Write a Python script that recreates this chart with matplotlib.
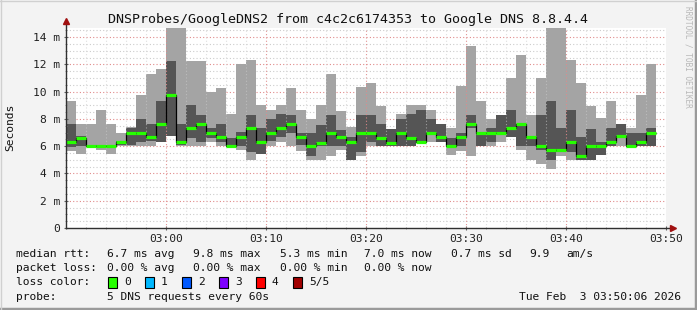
"""
SmokePing style latency graph: DNSProbes/GoogleDNS2, last hour.
Smoke bands = spread of 5 DNS requests per minute, green step = median rtt.
"""

import matplotlib
matplotlib.use("Agg")
import matplotlib.pyplot as plt
import numpy as np
from matplotlib.patches import Rectangle

# one bar per minute starting 02:50, values in ms
RTT_MIN = [5.66, 5.40, 5.98, 5.69, 5.40, 6.03, 6.00, 6.03, 6.03, 6.32,
           6.76, 6.03, 6.03, 6.03, 6.32, 6.03, 5.95, 5.69, 5.00, 5.40,
           6.03, 6.32, 6.03, 5.68, 5.00, 5.00, 5.30, 5.69, 4.98, 5.30,
           6.03, 6.00, 6.00, 6.00, 6.00, 6.25, 6.32, 6.32, 5.37, 5.66,
           5.30, 6.03, 6.03, 6.32, 6.69, 5.69, 5.00, 4.66, 4.33, 5.30,
           5.00, 5.00, 5.00, 5.37, 6.03, 6.03, 6.03, 6.03, 6.03]
RTT_P2 = [5.96, 6.00, 6.00, 6.00, 6.00, 6.10, 6.05, 6.32, 6.40, 6.32,
          6.76, 6.10, 6.60, 6.32, 6.60, 6.30, 6.00, 6.03, 5.59, 5.40,
          6.40, 6.69, 6.98, 6.10, 5.30, 6.00, 6.03, 6.00, 5.00, 5.59,
          6.30, 6.00, 6.00, 6.00, 6.00, 6.30, 6.95, 6.32, 6.03, 6.00,
          7.35, 6.03, 6.32, 6.95, 6.69, 6.03, 6.03, 5.69, 5.00, 5.60,
          5.59, 5.00, 5.00, 5.37, 6.03, 6.70, 6.03, 6.03, 6.03]
RTT_MED = [6.30, 6.62, 6.03, 6.03, 6.03, 6.32, 6.98, 6.98, 6.69, 7.64,
           9.74, 6.32, 7.35, 7.64, 6.98, 6.69, 6.03, 6.69, 7.35, 6.32,
           6.98, 7.35, 7.64, 6.66, 6.03, 6.25, 6.98, 6.69, 6.32, 6.98,
           6.98, 6.62, 6.25, 6.98, 6.62, 6.32, 6.98, 6.69, 6.03, 6.69,
           7.64, 6.98, 6.98, 6.98, 7.35, 7.64, 6.69, 6.03, 5.69, 5.69,
           6.32, 5.30, 6.03, 6.03, 6.32, 6.76, 6.03, 6.32, 6.98]
RTT_P4 = [7.60, 6.75, 6.10, 6.10, 6.10, 6.40, 7.35, 8.00, 7.62, 9.30,
          12.23, 7.62, 9.01, 8.28, 7.35, 7.62, 6.62, 7.06, 8.28, 7.35,
          7.99, 8.35, 8.28, 7.00, 6.98, 7.55, 8.28, 7.20, 6.70, 8.28,
          8.28, 7.64, 7.25, 7.99, 8.35, 8.65, 7.99, 7.62, 6.62, 6.98,
          8.28, 7.00, 7.35, 8.28, 8.64, 7.66, 6.72, 8.28, 9.30, 7.35,
          8.64, 6.69, 7.25, 6.32, 7.35, 7.64, 6.98, 6.98, 7.35]
RTT_MAX = [9.30, 7.62, 7.65, 8.64, 7.62, 6.98, 7.40, 9.76, 11.27, 11.65,
           15.2, 15.0, 12.23, 12.23, 9.96, 10.26, 8.35, 12.00, 12.30, 9.01,
           8.64, 9.01, 10.26, 8.64, 7.99, 9.01, 11.28, 8.57, 7.42, 10.33,
           10.62, 8.94, 7.27, 8.35, 9.01, 9.01, 8.65, 7.64, 7.35, 10.43,
           13.33, 9.30, 7.99, 8.30, 10.99, 12.67, 8.28, 10.99, 15.2, 15.2,
           12.30, 10.62, 8.94, 8.03, 9.30, 7.66, 7.35, 9.74, 12.00]

TIME_LABELS = ["03:00", "03:10", "03:20", "03:30", "03:40", "03:50"]
Y_TICKS = [0, 2, 4, 6, 8, 10, 12, 14]

TITLE = "DNSProbes/GoogleDNS2 from c4c2c6174353 to Google DNS 8.8.4.4"
LOSS_COLORS = [("0", "#26ff00"), ("1", "#00b8ff"), ("2", "#0059ff"),
               ("3", "#7e00ff"), ("4", "#ff0000"), ("5/5", "#a10000")]

W, H = 697, 310
MONO = "DejaVu Sans Mono"
C_LIGHT = "#a4a4a4"
C_DARK = "#555555"
C_ARROW = "#a01010"


def fx(px):
    return px / W


def fy(py):
    return 1 - py / H


def main():
    fig = plt.figure(figsize=(W / 100, H / 100), dpi=100)
    fig.patch.set_facecolor("#f3f3f3")

    # rrdtool style frame shading
    fig.add_artist(plt.Line2D([0, 1], [fy(H - 1), fy(H - 1)], color="#9a9a9a", lw=2.5))
    fig.add_artist(plt.Line2D([fx(W - 1), fx(W - 1)], [0, 1], color="#9a9a9a", lw=2.5))
    fig.add_artist(plt.Line2D([0, 1], [fy(0.5), fy(0.5)], color="#d0d0d0", lw=1))
    fig.add_artist(plt.Line2D([fx(0.5), fx(0.5)], [0, 1], color="#d0d0d0", lw=1))

    x0, x1 = 66, 666
    ytop, ybot = 27.5, 228
    ax = fig.add_axes([fx(x0), fy(ybot), (x1 - x0) / W, (ybot - ytop) / H])
    ax.set_facecolor("white")
    ymax = 14.7
    ax.set_xlim(0, 60)
    ax.set_ylim(0, ymax)

    n = len(RTT_MED)
    edges = np.arange(n + 1)
    lo = np.array(RTT_MIN)
    p2 = np.array(RTT_P2)
    med = np.array(RTT_MED)
    p4 = np.array(RTT_P4)
    hi = np.minimum(np.array(RTT_MAX), ymax)

    ax.stairs(hi, edges, baseline=lo, fill=True, color=C_LIGHT, lw=0, zorder=1)
    ax.stairs(p4, edges, baseline=p2, fill=True, color=C_DARK, lw=0, zorder=1.2)

    # vertical grid shows through the smoke, horizontal one mostly hidden
    for m in np.arange(2, 60, 2):
        major = m % 10 == 0
        ax.axvline(m, color="#e08a8a" if major else "#cccccc",
                   lw=0.8, ls=(0, (1, 2)), alpha=0.9 if major else 0.6, zorder=2)
    for v in np.arange(0.5, ymax, 0.5):
        major = abs(v % 2) < 1e-9
        ax.axhline(v, color="#e08a8a" if major else "#cccccc",
                   lw=0.8, ls=(0, (1, 2)), zorder=0.5)

    ax.stairs(med, edges, baseline=None, color="black", lw=0.9, zorder=3)
    ax.hlines(med, edges[:-1], edges[1:], color="#26ff00", lw=2.3, zorder=4)

    for s in ax.spines.values():
        s.set_visible(False)
    ax.plot([0, 0], [0, ymax + 0.45], color="#303030", lw=1, clip_on=False, zorder=5)
    ax.plot([0, 60.6], [0, 0], color="#303030", lw=1, clip_on=False, zorder=5)
    ax.plot([0], [ymax + 0.45], marker="^", ms=5, color=C_ARROW, clip_on=False, zorder=6)
    ax.plot([60.7], [0], marker=">", ms=5, color=C_ARROW, clip_on=False, zorder=6)

    ax.set_xticks(np.arange(10, 61, 10))
    ax.set_xticklabels(TIME_LABELS, family=MONO, fontsize=8.1, color="#202020")
    ax.set_xticks(np.arange(0, 61, 2), minor=True)
    ax.set_yticks(Y_TICKS)
    ax.set_yticklabels([f"{v} m" if v else "0" for v in Y_TICKS],
                       family=MONO, fontsize=8.1, color="#202020")
    ax.set_yticks(np.arange(0, ymax, 0.5), minor=True)
    ax.tick_params(axis="both", which="major", length=3, width=0.8,
                   direction="inout", color="#606060", pad=3)
    ax.tick_params(axis="both", which="minor", length=2, width=0.6,
                   direction="inout", color="#909090")

    fig.text(fx(348), fy(19), TITLE, family=MONO, fontsize=9.6,
             ha="center", va="center", color="#111111")
    fig.text(fx(10), fy(127), "Seconds", family=MONO, fontsize=8.1,
             rotation=90, ha="center", va="center", color="#111111")
    fig.text(fx(688), fy(6), "RRDTOOL / TOBI OETIKER", family=MONO, fontsize=5.6,
             rotation=270, ha="center", va="top", color="#b8b8b8")

    kw = dict(family=MONO, fontsize=8.1, va="center", color="#111111")
    fig.text(fx(16), fy(254), "median rtt:", **kw)
    for xp, s in [(107, "6.7 ms avg"), (193, "9.8 ms max"), (280, "5.3 ms min"),
                  (364, "7.0 ms now"), (451, "0.7 ms sd"), (529, "9.9"), (566, "am/s")]:
        fig.text(fx(xp), fy(254), s, **kw)
    fig.text(fx(16), fy(268), "packet loss:", **kw)
    for xp, s in [(107, "0.00 % avg"), (193, "0.00 % max"), (280, "0.00 % min"),
                  (364, "0.00 % now")]:
        fig.text(fx(xp), fy(268), s, **kw)
    fig.text(fx(16), fy(282), "loss color:", **kw)
    for k, (lab, col) in enumerate(LOSS_COLORS):
        bx = 108 + 37 * k
        fig.patches.append(Rectangle((fx(bx), fy(288)), 9 / W, 11 / H,
                                     transform=fig.transFigure, facecolor=col,
                                     edgecolor="black", lw=0.8))
        fig.text(fx(bx + 16), fy(282), lab, **kw)
    fig.text(fx(16), fy(297), "probe:", **kw)
    fig.text(fx(107), fy(297), "5 DNS requests every 60s", **kw)
    fig.text(fx(681), fy(297), "Tue Feb  3 03:50:06 2026", ha="right", **kw)

    fig.savefig("out.png", dpi=100, facecolor=fig.get_facecolor())
    plt.close(fig)


if __name__ == "__main__":
    main()
